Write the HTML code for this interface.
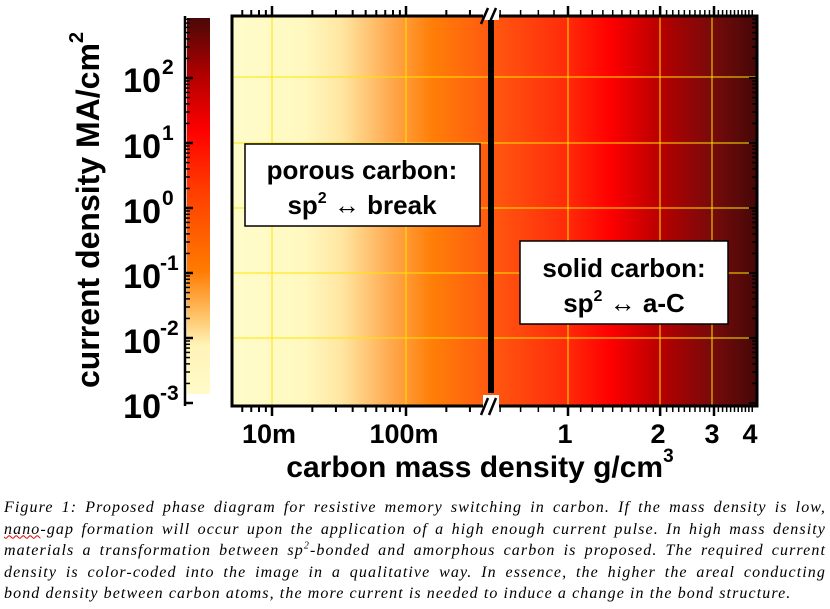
<!DOCTYPE html>
<html><head><meta charset="utf-8"><style>
html,body{margin:0;padding:0;background:#fff;width:830px;height:609px;overflow:hidden}
.cap{position:absolute;left:4px;top:497px;width:822px;font-family:"Liberation Serif",serif;font-style:italic;font-size:16px;letter-spacing:1.1px;line-height:21.6px;color:#000}
.cap div{text-align:justify;text-align-last:justify;white-space:nowrap;height:21.6px}
.cap div.l{text-align-last:left}
.cap sup{font-size:10px;line-height:0}
</style></head><body>
<svg id="s" width="830" height="490" style="position:absolute;left:0;top:0" xmlns="http://www.w3.org/2000/svg" font-family="Liberation Sans, Arial, sans-serif" font-weight="bold">
<defs>
<linearGradient id="cb" x1="0" y1="1" x2="0" y2="0">
<stop offset="0" stop-color="#fffbc8"/>
<stop offset="0.13" stop-color="#fff3b8"/>
<stop offset="0.2" stop-color="#ffc870"/>
<stop offset="0.33" stop-color="#ff7a00"/>
<stop offset="0.55" stop-color="#ff3a00"/>
<stop offset="0.7" stop-color="#ff0000"/>
<stop offset="0.85" stop-color="#b00000"/>
<stop offset="1" stop-color="#4a0808"/>
</linearGradient>
<linearGradient id="pg" x1="232" y1="0" x2="757" y2="0" gradientUnits="userSpaceOnUse">
<stop offset="0" stop-color="#fffcca"/>
<stop offset="0.14" stop-color="#fff8c0"/>
<stop offset="0.21" stop-color="#ffe6a0"/>
<stop offset="0.30" stop-color="#ffaa50"/>
<stop offset="0.38" stop-color="#ff7f08"/>
<stop offset="0.49" stop-color="#ff5a10"/>
<stop offset="0.64" stop-color="#ff2a0a"/>
<stop offset="0.72" stop-color="#ff0000"/>
<stop offset="0.82" stop-color="#b40000"/>
<stop offset="0.91" stop-color="#7a0a0a"/>
<stop offset="1" stop-color="#450808"/>
</linearGradient>
</defs>
<rect x="187" y="18" width="23" height="376" fill="url(#cb)"/>
<rect x="232" y="16" width="525" height="390" fill="url(#pg)"/>
<g id="grid" stroke="#ffe600" stroke-width="1"></g>
<g id="ticks" stroke="#000" stroke-width="2"></g>
<line x1="185" y1="16" x2="185" y2="406" stroke="#000" stroke-width="2.5"/>
<rect x="232" y="16" width="525" height="390" fill="none" stroke="#000" stroke-width="3"/>
<line x1="491" y1="16" x2="491" y2="393" stroke="#000" stroke-width="6"/>
<rect x="483" y="395" width="16" height="20" fill="#fff"/>
<rect x="483" y="6" width="16" height="14" fill="#fff"/>
<line x1="481" y1="415" x2="488" y2="398" stroke="#000" stroke-width="2.5"/>
<line x1="489" y1="415" x2="496" y2="398" stroke="#000" stroke-width="2.5"/>
<line x1="481" y1="24" x2="488" y2="8" stroke="#000" stroke-width="2.5"/>
<line x1="489" y1="24" x2="496" y2="8" stroke="#000" stroke-width="2.5"/>
<rect x="245" y="144" width="235" height="82" fill="#fff" stroke="#000" stroke-width="1.5"/>
<text x="362" y="179" font-size="26" text-anchor="middle">porous carbon:</text>
<text x="362" y="214" font-size="26" text-anchor="middle">sp<tspan font-size="16" dy="-11">2</tspan><tspan dy="11"> ↔ break</tspan></text>
<rect x="520" y="241" width="208" height="83" fill="#fff" stroke="#000" stroke-width="1.5"/>
<text x="624" y="277" font-size="26" text-anchor="middle">solid carbon:</text>
<text x="624" y="312" font-size="26" text-anchor="middle">sp<tspan font-size="16" dy="-11">2</tspan><tspan dy="11"> ↔ a-C</tspan></text>
<g font-size="34" text-anchor="end">
<text x="161" y="92">10</text>
<text x="161" y="158">10</text>
<text x="161" y="223">10</text>
<text x="161" y="288">10</text>
<text x="161" y="353">10</text>
<text x="161" y="418">10</text>
</g>
<g font-size="21">
<text x="162" y="74">2</text>
<text x="162" y="140">1</text>
<text x="162" y="205">0</text>
<text x="160" y="270">-1</text>
<text x="160" y="335">-2</text>
<text x="160" y="400">-3</text>
</g>
<text transform="translate(99,210) rotate(-90)" font-size="32" text-anchor="middle">current density MA/cm<tspan font-size="20" dy="-16">2</tspan></text>
<g font-size="27" text-anchor="middle">
<text x="269" y="443">10m</text><text x="404" y="443">100m</text><text x="565" y="443">1</text><text x="658" y="443">2</text><text x="712" y="443">3</text><text x="750" y="443">4</text>
</g>
<text x="480" y="477" font-size="30" text-anchor="middle">carbon mass density g/cm<tspan font-size="19" dy="-15">3</tspan></text>
</svg>
<div class="cap">
<div>Figure 1: Proposed phase diagram for resistive memory switching in carbon. If the mass density is low,</div>
<div><span style="text-decoration:underline wavy #d00;text-decoration-thickness:1px">nano</span>-gap formation will occur upon the application of a high enough current pulse. In high mass density</div>
<div>materials a transformation between sp<sup>2</sup>-bonded and amorphous carbon is proposed. The required current</div>
<div>density is color-coded into the image in a qualitative way. In essence, the higher the areal conducting</div>
<div class="l">bond density between carbon atoms, the more current is needed to induce a change in the bond structure.</div>
</div>
<script>
var NS="http://www.w3.org/2000/svg",g=document.getElementById("ticks"),gr=document.getElementById("grid");
function L(p,x1,y1,x2,y2,w){var l=document.createElementNS(NS,"line");l.setAttribute("x1",x1);l.setAttribute("y1",y1);l.setAttribute("x2",x2);l.setAttribute("y2",y2);if(w)l.setAttribute("stroke-width",w);p.appendChild(l);}
[272,406,568,660,712].forEach(function(x){L(gr,x,16,x,406);});
[77,143,208,273,338].forEach(function(y){L(gr,232,y,757,y);});
for(var d=-3;d<=2;d++){var y0=403-(d+3)*65;L(g,185,y0,193,y0,2.5);
 for(var m=2;m<10;m++){var y=y0-65*Math.log10(m);if(y>16)L(g,185,y,190,y,1.5);}}
function xl(v){return 272+134*(Math.log10(v)+2);}
function xr(v){return 568+306*Math.log10(v);}
var vals=[];
for(var e=-3;e<=-1;e++)for(var m=1;m<10;m++)vals.push([m*Math.pow(10,e),m==1]);
vals.forEach(function(a){var x=xl(a[0]);if(x>=233&&x<=483){var h=a[1]?10:6;L(g,x,406,x,406+h,a[1]?2.5:2);L(g,x,16,x,16-h,a[1]?2.5:2);}});
var rv=[];for(var m=5;m<10;m++)rv.push([m/10,false]);rv.push([1,true]);
for(var v=1.1;v<4.01;v+=0.1){var mj=Math.abs(v-2)<0.01||Math.abs(v-3)<0.01;rv.push([v,mj]);}
rv.forEach(function(a){var x=xr(a[0]);if(x>=499&&x<=756){var h=a[1]?10:6;L(g,x,406,x,406+h,a[1]?2.5:1.5);L(g,x,16,x,16-h,a[1]?2.5:1.5);}});
for(var d=-3;d<=2;d++){var y0=403-(d+3)*65;L(g,757,y0,749,y0,2);
 for(var m=2;m<10;m++){var y=y0-65*Math.log10(m);if(y>16)L(g,757,y,752,y,1.5);}}
</script>
</body></html>
